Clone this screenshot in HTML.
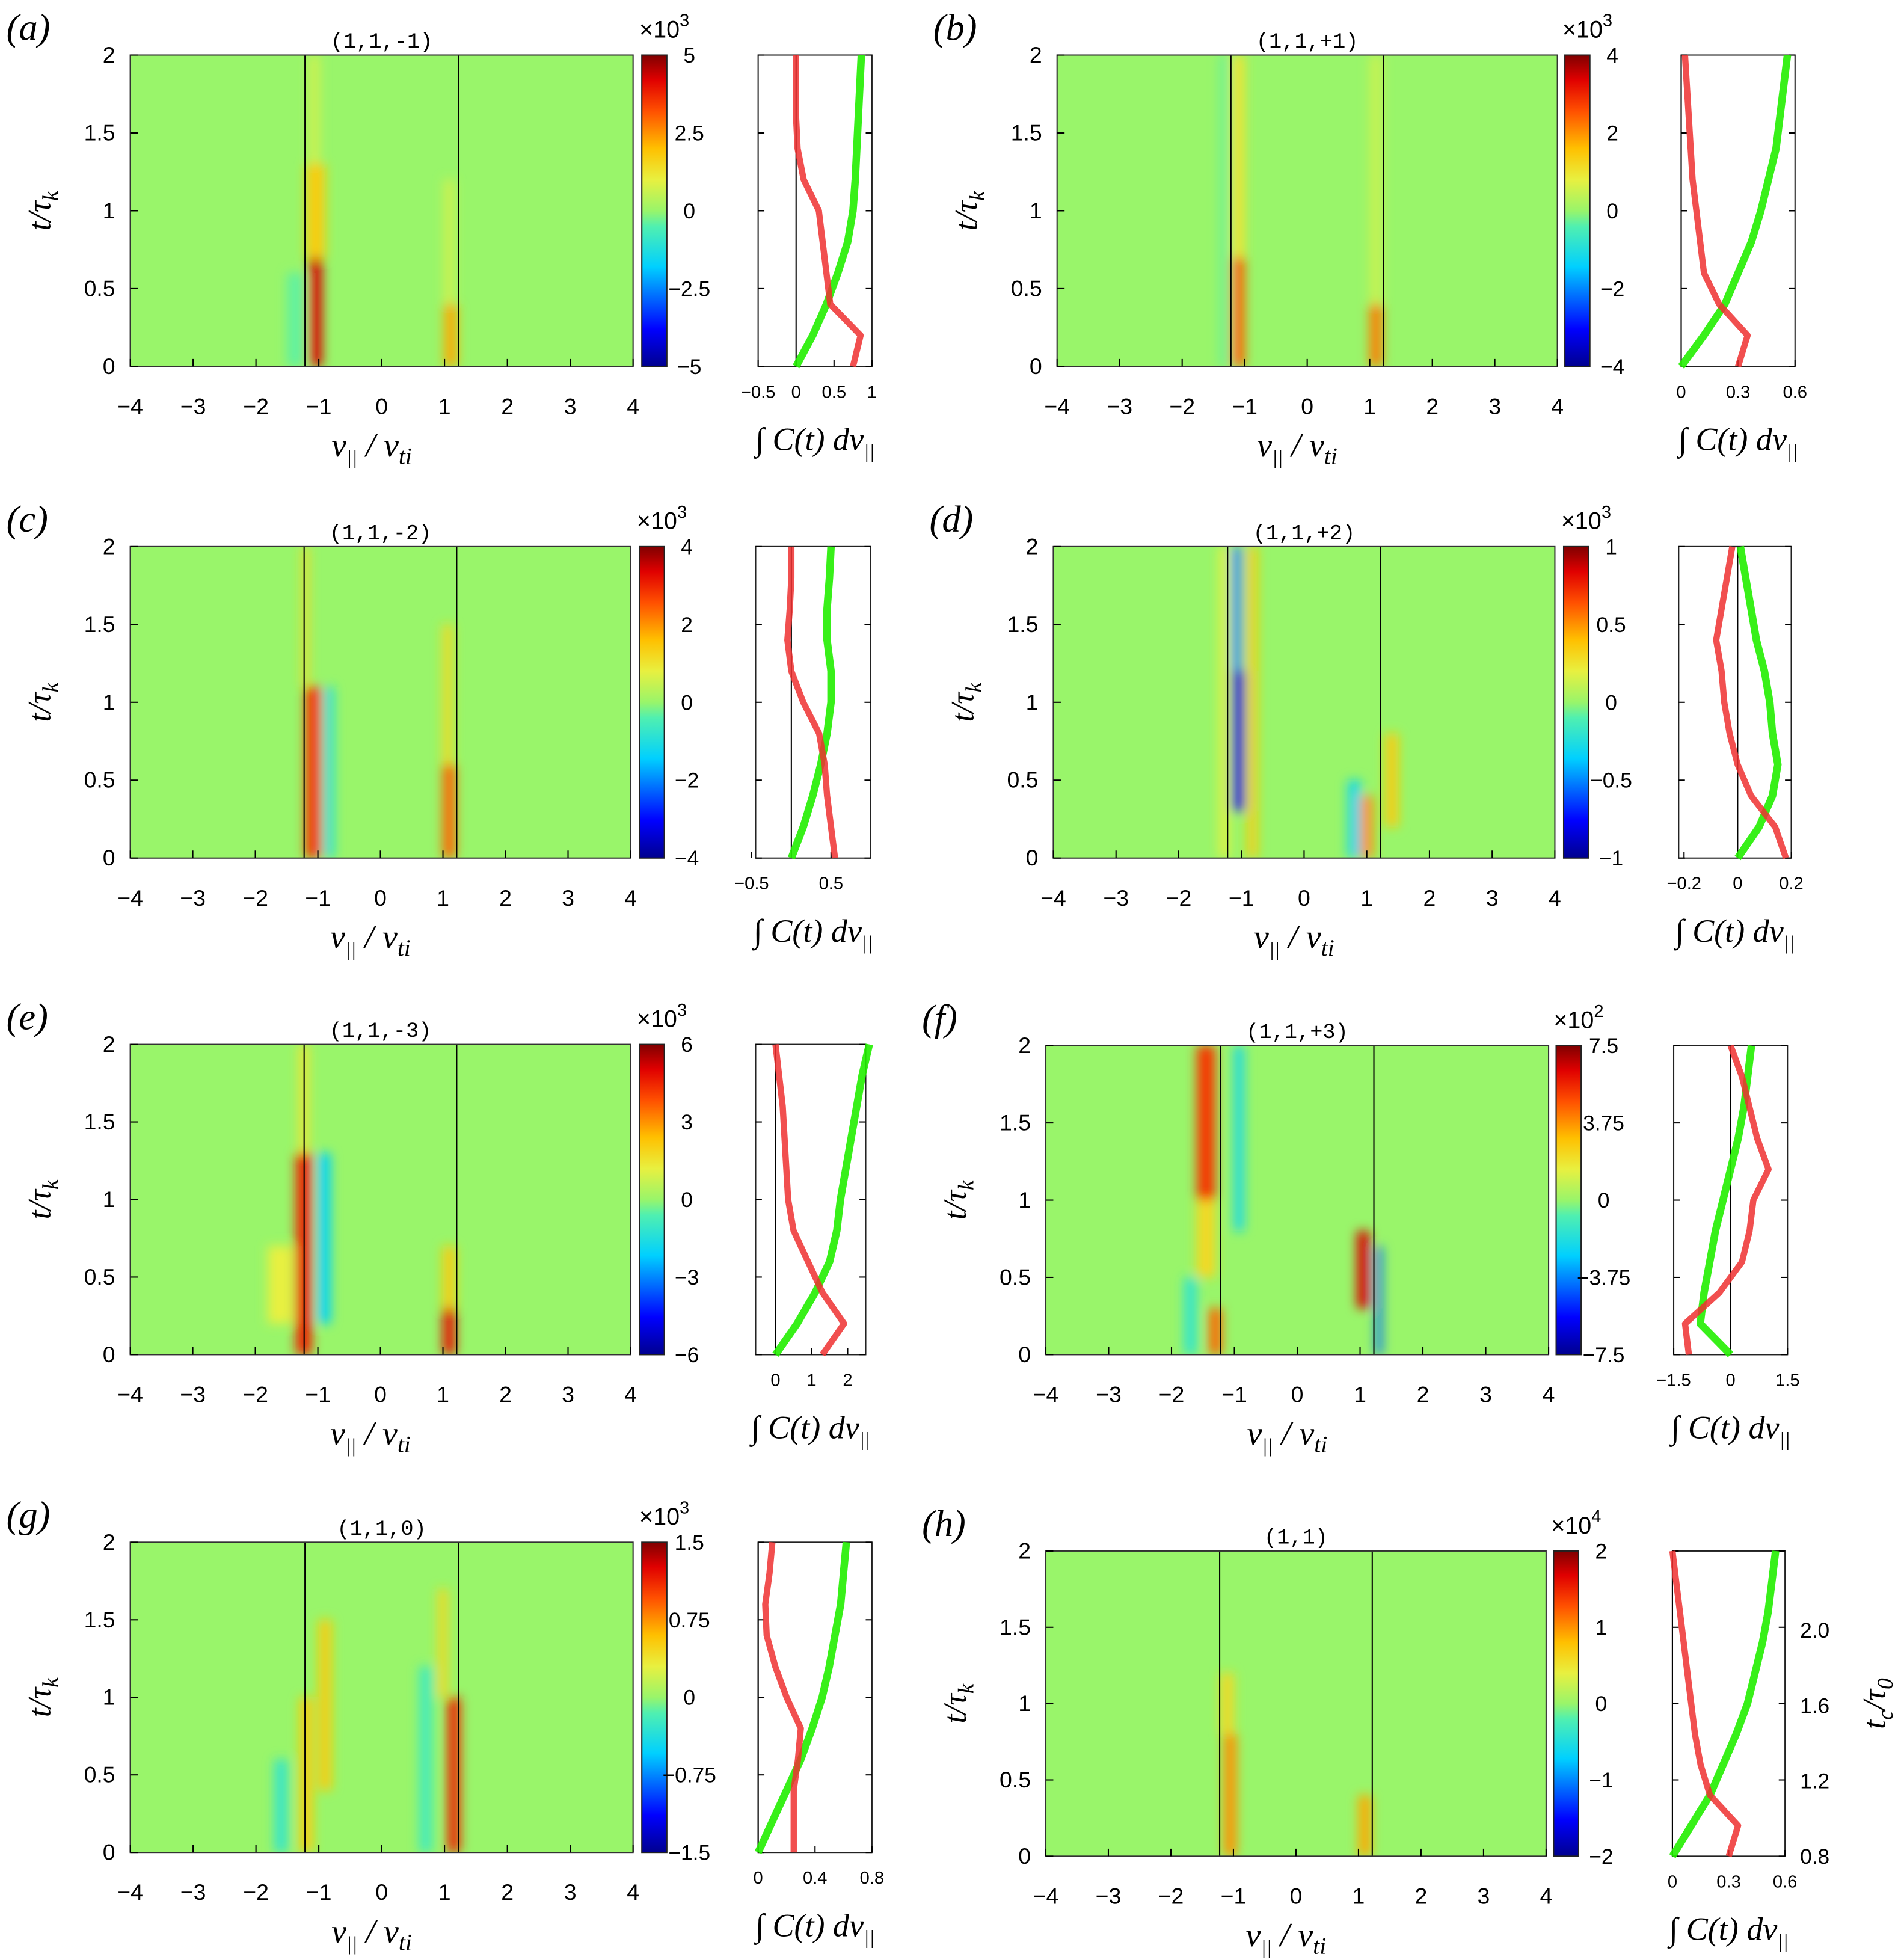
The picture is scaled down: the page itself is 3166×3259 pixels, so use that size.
<!DOCTYPE html>
<html><head><meta charset="utf-8"><style>
html,body{margin:0;padding:0;background:#fff}
svg{display:block}
text{font-family:"Liberation Sans","DejaVu Sans",sans-serif}
.mono{font-family:"Liberation Mono",monospace}
.ser{font-family:"Liberation Serif",serif;font-style:italic}
</style></head><body>
<svg id="fig" width="3166" height="3259" viewBox="0 0 1522 1567" xmlns="http://www.w3.org/2000/svg">
<defs>
<filter id="blur" x="-20%" y="-20%" width="140%" height="140%"><feGaussianBlur stdDeviation="4.5"/></filter>
<linearGradient id="jet" x1="0" y1="1" x2="0" y2="0">
<stop offset="0" stop-color="#00008f"/><stop offset="0.12" stop-color="#0000ff"/><stop offset="0.32" stop-color="#00d0ff"/><stop offset="0.45" stop-color="#50f0b0"/><stop offset="0.5" stop-color="#99f56a"/><stop offset="0.6" stop-color="#e8f040"/><stop offset="0.7" stop-color="#ffc000"/><stop offset="0.82" stop-color="#ff5000"/><stop offset="0.92" stop-color="#e00000"/><stop offset="1" stop-color="#800000"/>
</linearGradient>
</defs>
</svg>
<script>
// ---- data ----
const panelIds=['a','b','c','d','e','f','g','h'];
const titles=['(1,1,-1)','(1,1,+1)','(1,1,-2)','(1,1,+2)','(1,1,-3)','(1,1,+3)','(1,1,0)','(1,1)'];
const cbTicks=[[5,2.5,0,-2.5,-5],[4,2,0,-2,-4],[4,2,0,-2,-4],[1,0.5,0,-0.5,-1],[6,3,0,-3,-6],[7.5,3.75,0,-3.75,-7.5],[1.5,0.75,0,-0.75,-1.5],[2,1,0,-1,-2]];
const cbExp=['3','3','3','3','3','2','3','4'];
const sideRange=[[-0.5,1.0],[0,0.6],[-0.45,1.0],[-0.22,0.2],[-0.55,2.5],[-1.5,1.5],[0,0.8],[0,0.6]];
const sideTicks=[[-0.5,0,0.5,1],[0,0.3,0.6],[-0.5,0.5],[-0.2,0,0.2],[0,1,2],[-1.5,0,1.5],[0,0.4,0.8],[0,0.3,0.6]];
const curveT=[0,0.2,0.4,0.6,0.8,1.0,1.2,1.4,1.6,1.8,2.0];
const redA=[0.75,0.85,0.45,0.4,0.35,0.3,0.1,0.02,0.0,0.0,0.0];
const greenA=[0,0.22,0.4,0.55,0.68,0.75,0.78,0.8,0.82,0.84,0.86];
const redB=[0.3,0.35,0.2,0.12,0.1,0.08,0.06,0.05,0.04,0.03,0.02];
const greenB=[0,0.12,0.23,0.3,0.37,0.42,0.46,0.5,0.52,0.54,0.56];
const redC=[0.55,0.5,0.45,0.42,0.35,0.15,0.0,-0.05,-0.02,0.0,0.0];
const greenC=[0,0.15,0.27,0.37,0.45,0.5,0.5,0.45,0.45,0.48,0.5];
const redD=[0.18,0.14,0.05,0.0,-0.03,-0.05,-0.06,-0.08,-0.06,-0.04,-0.02];
const greenD=[0,0.08,0.13,0.15,0.13,0.12,0.1,0.07,0.05,0.03,0.01];
const redE=[1.3,1.9,1.3,0.9,0.5,0.35,0.3,0.25,0.2,0.1,0.0];
const greenE=[0,0.6,1.1,1.5,1.7,1.8,1.95,2.1,2.25,2.4,2.6];
const redF=[-1.1,-1.2,-0.3,0.3,0.5,0.6,1.0,0.7,0.5,0.3,0.0];
const greenF=[0,-0.8,-0.7,-0.55,-0.4,-0.2,0.0,0.2,0.35,0.45,0.55];
const redG=[0.25,0.25,0.25,0.28,0.3,0.2,0.12,0.06,0.05,0.08,0.1];
const greenG=[0,0.1,0.2,0.3,0.38,0.45,0.5,0.54,0.58,0.6,0.62];
const redH=[0.3,0.35,0.2,0.15,0.12,0.1,0.08,0.06,0.04,0.02,0.0];
const greenH=[0,0.1,0.2,0.27,0.34,0.4,0.44,0.48,0.51,0.53,0.55];
const reds=[redA,redB,redC,redD,redE,redF,redG,redH];
const greens=[greenA,greenB,greenC,greenD,greenE,greenF,greenG,greenH];
// blobs: [v0,v1,t0,t1,value(-1..1)]
const blobsA=[[-1.15,-0.95,0,0.7,0.85],[-1.2,-0.9,0.7,1.3,0.35],[-1.15,-1.0,1.3,2,0.15],[1.0,1.2,0,0.4,0.45],[1.0,1.15,0.4,1.2,0.15],[-1.5,-1.25,0,0.6,-0.08]];
const blobsB=[[-1.2,-1.0,0,0.7,0.6],[-1.2,-1.0,0.7,2,0.25],[1.0,1.2,0,0.4,0.55],[1.0,1.2,0.4,2,0.12],[-1.4,-1.25,0,2,-0.06]];
const blobsC=[[-1.2,-0.95,0,1.1,0.7],[-1.25,-1.15,1.1,2,0.3],[-0.9,-0.75,0,1.1,-0.25],[1.0,1.2,0,0.6,0.6],[1.0,1.15,0.6,1.5,0.3]];
const blobsD=[[-1.15,-0.95,0.3,1.2,-0.85],[-1.15,-1.0,1.2,2,-0.5],[-0.9,-0.75,0,2,0.35],[-1.35,-1.2,0,2,0.2],[0.9,1.1,0,0.4,0.5],[0.7,0.9,0,0.5,-0.3],[1.3,1.5,0.2,0.8,0.35]];
const blobsE=[[-1.35,-1.1,0,1.3,0.75],[-1.0,-0.8,0.2,1.3,-0.35],[-1.8,-1.4,0.2,0.7,0.2],[1.0,1.2,0,0.3,0.8],[1.0,1.2,0.3,0.7,0.35],[-1.3,-1.15,1.3,2,0.25]];
const blobsF=[[-1.6,-1.3,1.0,2,0.7],[-1.6,-1.3,0.5,1.0,0.3],[-1.0,-0.85,0.8,2,-0.3],[0.95,1.15,0.3,0.8,0.85],[1.25,1.35,0,0.7,-0.55],[-1.4,-1.2,0,0.3,0.6],[-1.8,-1.6,0,0.5,-0.2]];
const blobsG=[[-1.3,-1.1,0,1.0,0.35],[-1.0,-0.8,0.4,1.5,0.35],[1.05,1.25,0,1.0,0.75],[0.9,1.05,1.0,1.7,0.3],[-1.7,-1.5,0,0.6,-0.2],[0.6,0.8,0,1.2,-0.15]];
const blobsH=[[-1.15,-0.95,0,0.8,0.5],[-1.2,-1.0,0.8,1.2,0.3],[1.0,1.2,0,0.4,0.45]];
const blobs=[blobsA,blobsB,blobsC,blobsD,blobsE,blobsF,blobsG,blobsH];
const vTicks=[-4,-3,-2,-1,0,1,2,3,4];
const tTicks=[0,0.5,1,1.5,2];
const rightTicksH=['0.8','1.2','1.6','2.0'];
// ---- layout ----
const L=[[104,44,402,249,513,606,91],[845,44,400,249,1251,1344,91],[104,437,400,249,511,604,92],[842,437,401,249,1250,1342,90],
[104,835,400,248,511,604,88],[836,836,402,247,1244,1338,91],[104,1233,402,248,513,606,91],[836,1240,400,244,1242,1337,90]];
const svg=document.getElementById('fig');const NS='http://www.w3.org/2000/svg';
function el(tag,attrs,parent,txt){const e=document.createElementNS(NS,tag);for(const k in attrs)e.setAttribute(k,attrs[k]);if(txt!==undefined)e.textContent=txt;(parent||svg).appendChild(e);return e;}
const stops=[[-1,[0,0,143]],[-0.76,[0,0,255]],[-0.36,[0,208,255]],[-0.1,[80,240,176]],[0,[153,245,106]],[0.2,[232,240,64]],[0.4,[255,192,0]],[0.64,[255,80,0]],[0.84,[224,0,0]],[1,[128,0,0]]];
function cmap(v){v=Math.max(-1,Math.min(1,v));for(let i=1;i<stops.length;i++){if(v<=stops[i][0]){const a=stops[i-1],b=stops[i];const f=(v-a[0])/(b[0]-a[0]);return 'rgb('+a[1].map((c,j)=>Math.round(c+(b[1][j]-c)*f)).join(',')+')';}}return 'rgb(128,0,0)';}
panelIds.forEach((id,p)=>{
  const [hx,hy,hw,hh,cbx,sx,sw]=L[p];
  const g=el('g',{});
  
  
  const X=v=>hx+(v+4)/8*hw, Y=t=>hy+hh-t/2*hh;
  const lt=el('text',{x:hx-99,y:hy-12,'font-size':30,class:'ser'},g,'('+id+')');
  
  const ti=el('text',{x:hx+hw/2,y:hy-6,'font-size':17,'text-anchor':'middle',class:'mono'},g,titles[p]);
  
  el('clipPath',{id:'cl'+id},g).appendChild(el('rect',{x:hx,y:hy,width:hw,height:hh},g));
  const hm=el('g',{'clip-path':'url(#cl'+id+')'},g);
  
  el('rect',{x:hx,y:hy,width:hw,height:hh,fill:'#99f56a'},hm);
  const bg=el('g',{filter:'url(#blur)'},hm);
  blobs[p].forEach(b=>{
    const r=el('rect',{x:X(b[0]),y:Y(b[3]),width:X(b[1])-X(b[0]),height:Y(b[2])-Y(b[3]),fill:cmap(b[4])},bg);
    
  });
  [-1.22,1.22].forEach(v=>el('line',{x1:X(v),x2:X(v),y1:hy,y2:hy+hh,stroke:'#000','stroke-width':1},hm));
  el('rect',{x:hx,y:hy,width:hw,height:hh,fill:'none',stroke:'#333','stroke-width':1},g);
  vTicks.forEach(v=>{el('line',{x1:X(v),x2:X(v),y1:hy+hh,y2:hy+hh-6,stroke:'#000'},g);
    const t=el('text',{x:X(v),y:hy+hh+38,'font-size':18,'text-anchor':'middle'},g,v<0?'\u2212'+(-v):String(v));});
  tTicks.forEach(v=>{el('line',{x1:hx,x2:hx+6,y1:Y(v),y2:Y(v),stroke:'#000'},g);
    const t=el('text',{x:hx-12,y:Y(v)+6,'font-size':18,'text-anchor':'end'},g,String(v));});
  const xl=el('text',{x:hx+hw/2-8,y:hy+hh+72,'font-size':27,'text-anchor':'middle',class:'ser'},g);
  xl.innerHTML='v<tspan font-size="16" dy="6">||</tspan><tspan dy="-6"> / v</tspan><tspan font-size="19" dy="6">ti</tspan>';
  
  const yl=el('text',{transform:'translate('+(hx-64)+','+(hy+hh/2)+') rotate(-90)','font-size':26,'text-anchor':'middle',class:'ser'},g);
  yl.innerHTML='t/\u03c4<tspan font-size="18" dy="6">k</tspan>';
  
  const cb=el('rect',{x:cbx,y:hy,width:20,height:hh,fill:'url(#jet)',stroke:'#222','stroke-width':1},g);
  
  cbTicks[p].forEach((v,i)=>{const yy=hy+i*hh/4;
    const t=el('text',{x:cbx+38,y:yy+6,'font-size':17,'text-anchor':'middle'},g,v<0?'\u2212'+(-v):String(v));});
  const ex=el('text',{x:cbx-2,y:hy-14,'font-size':19},g);
  ex.innerHTML='\u00d710<tspan font-size="14" dy="-9">'+cbExp[p]+'</tspan>';
  
  const [r0,r1]=sideRange[p];const SX=v=>sx+(v-r0)/(r1-r0)*sw;
  const sp=el('rect',{x:sx,y:hy,width:sw,height:hh,fill:'#fff',stroke:'#222','stroke-width':1},g);
  
  el('line',{x1:SX(0),x2:SX(0),y1:hy,y2:hy+hh,stroke:'#000','stroke-width':1},g);
  tTicks.forEach(v=>{el('line',{x1:sx,x2:sx+5,y1:Y(v),y2:Y(v),stroke:'#000'},g);el('line',{x1:sx+sw,x2:sx+sw-5,y1:Y(v),y2:Y(v),stroke:'#000'},g);});
  sideTicks[p].forEach(v=>{el('line',{x1:SX(v),x2:SX(v),y1:hy+hh,y2:hy+hh-5,stroke:'#000'},g);
    const t=el('text',{x:SX(v),y:hy+hh+25,'font-size':14,'text-anchor':'middle'},g,v<0?'\u2212'+(-v):String(v));});
  const gp=el('polyline',{points:curveT.map((t,i)=>SX(greens[p][i])+','+Y(t)).join(' '),fill:'none',stroke:'#22ee00','stroke-width':6,'stroke-linejoin':'round',opacity:0.9},g);
  
  const rp=el('polyline',{points:curveT.map((t,i)=>SX(reds[p][i])+','+Y(t)).join(' '),fill:'none',stroke:'#ee3030','stroke-width':5,'stroke-linejoin':'round',opacity:0.85},g);
  
  const sl=el('text',{x:sx+sw/2,y:hy+hh+67,'font-size':26,'text-anchor':'middle',class:'ser'},g);
  sl.innerHTML='\u222b C(t) dv<tspan font-size="16" dy="6">||</tspan>';
  
  if(id==='h'){
    rightTicksH.forEach((s,i)=>{const yy=hy+hh-i*(hh/4.05);
      const t=el('text',{x:sx+sw+12,y:yy+6,'font-size':17},g,s);});
    const rl=el('text',{transform:'translate('+(sx+sw+80)+','+(hy+hh/2)+') rotate(-90)','font-size':26,'text-anchor':'middle',class:'ser'},g);
    rl.innerHTML='t<tspan font-size="18" dy="6">c</tspan><tspan dy="-6">/\u03c4</tspan><tspan font-size="18" dy="6">0</tspan>';
    
  }
});
</script>
</body></html>
